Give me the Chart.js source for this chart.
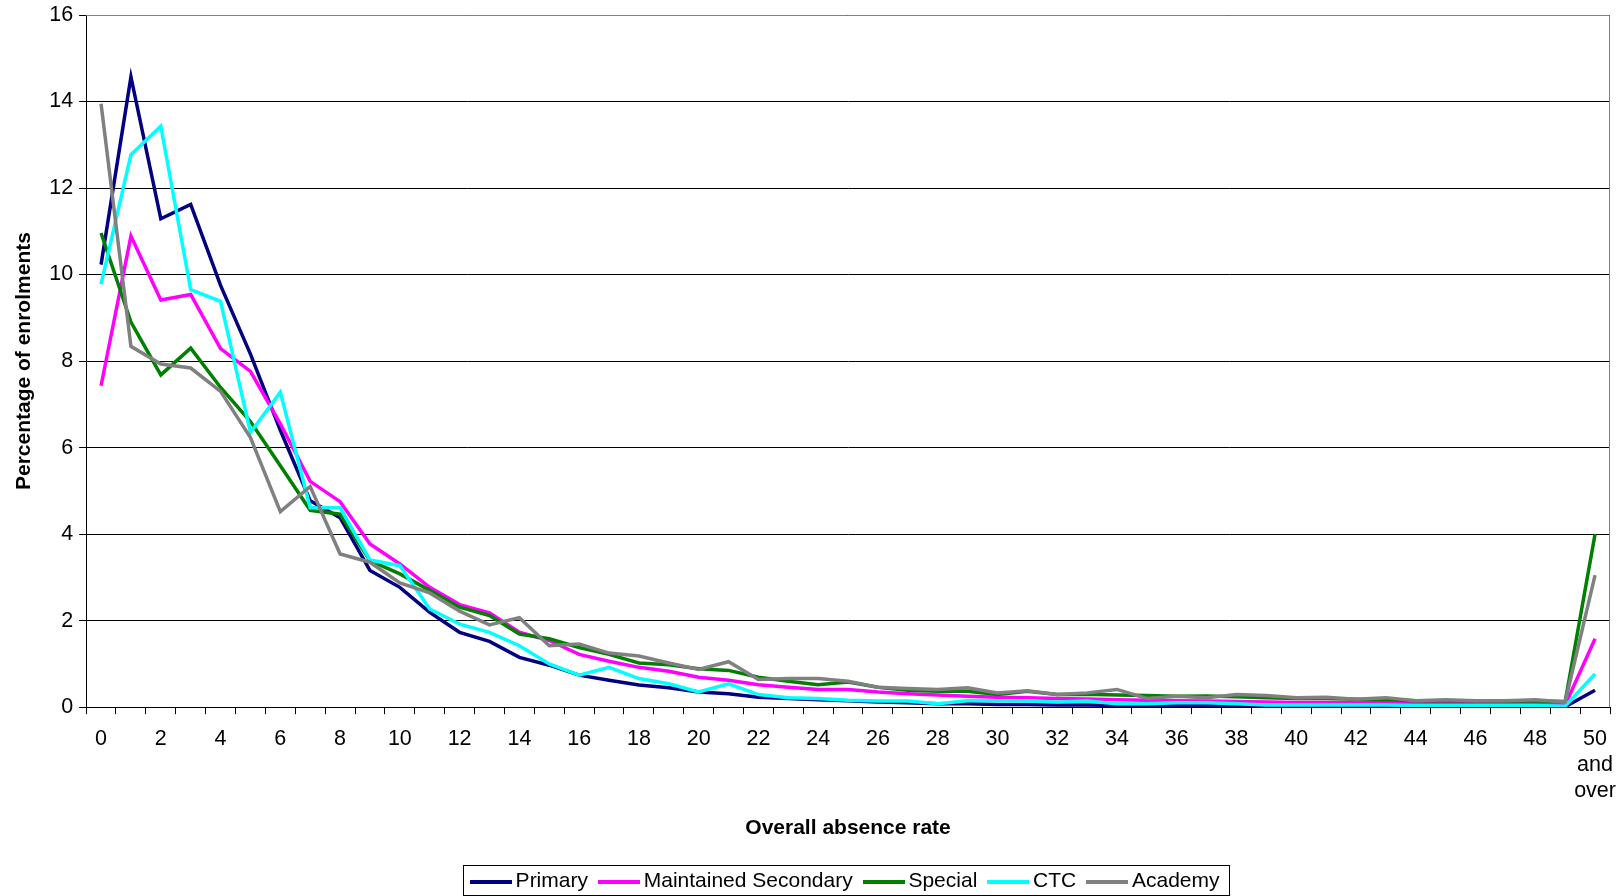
<!DOCTYPE html>
<html>
<head>
<meta charset="utf-8">
<script src="https://cdn.jsdelivr.net/npm/chart.js@4.4.1/dist/chart.umd.min.js"></script>
<style>
  html, body { margin: 0; padding: 0; background: #fff; }
  #wrap { width: 1622px; height: 896px; position: relative; }
</style>
</head>
<body>
<div id="wrap"><canvas id="chart"></canvas></div>
<script>
// x categories (absence rate bands)
const categories = ['0','1','2','3','4','5','6','7','8','9','10','11','12','13','14','15','16','17','18','19',
  '20','21','22','23','24','25','26','27','28','29','30','31','32','33','34','35','36','37','38','39',
  '40','41','42','43','44','45','46','47','48','49',['50','and','over']];

const primary = [10.23, 14.57, 11.29, 11.62, 9.75, 8.16, 6.4, 4.77, 4.38, 3.16, 2.77, 2.19, 1.73, 1.52, 1.15, 0.97, 0.74, 0.62, 0.51, 0.45,
  0.35, 0.31, 0.23, 0.2, 0.17, 0.15, 0.12, 0.1, 0.08, 0.08, 0.06, 0.06, 0.05, 0.05, 0.04, 0.04, 0.04, 0.03, 0.03, 0.03,
  0.03, 0.02, 0.02, 0.02, 0.02, 0.02, 0.02, 0.02, 0.02, 0.01, 0.39];
const maintainedSecondary = [7.43, 10.89, 9.41, 9.54, 8.29, 7.76, 6.55, 5.22, 4.75, 3.77, 3.31, 2.77, 2.37, 2.18, 1.73, 1.54, 1.22, 1.06, 0.92, 0.83,
  0.69, 0.62, 0.52, 0.46, 0.41, 0.41, 0.35, 0.31, 0.28, 0.25, 0.23, 0.22, 0.2, 0.19, 0.17, 0.16, 0.15, 0.14, 0.13, 0.12,
  0.11, 0.11, 0.1, 0.1, 0.09, 0.09, 0.08, 0.08, 0.08, 0.05, 1.58];
const special = [10.96, 8.9, 7.68, 8.3, 7.39, 6.6, 5.58, 4.55, 4.46, 3.39, 3.08, 2.7, 2.31, 2.12, 1.69, 1.58, 1.38, 1.22, 1.02, 0.98,
  0.89, 0.85, 0.69, 0.6, 0.52, 0.58, 0.46, 0.39, 0.37, 0.37, 0.29, 0.37, 0.29, 0.3, 0.28, 0.27, 0.25, 0.26, 0.24, 0.22,
  0.2, 0.2, 0.18, 0.17, 0.15, 0.15, 0.15, 0.14, 0.14, 0.13, 4.0];
const ctc = [9.78, 12.77, 13.43, 9.65, 9.38, 6.35, 7.28, 4.61, 4.61, 3.4, 3.27, 2.27, 1.92, 1.73, 1.42, 1.0, 0.74, 0.92, 0.66, 0.54,
  0.35, 0.54, 0.29, 0.22, 0.2, 0.16, 0.14, 0.14, 0.08, 0.15, 0.15, 0.14, 0.12, 0.14, 0.08, 0.08, 0.1, 0.1, 0.08, 0.05,
  0.05, 0.05, 0.05, 0.05, 0.04, 0.04, 0.04, 0.04, 0.04, 0.02, 0.77];
const academy = [13.95, 8.34, 7.93, 7.84, 7.3, 6.23, 4.52, 5.1, 3.54, 3.35, 2.87, 2.64, 2.22, 1.9, 2.07, 1.42, 1.46, 1.25, 1.18, 1.02,
  0.87, 1.05, 0.64, 0.66, 0.66, 0.6, 0.46, 0.43, 0.41, 0.45, 0.33, 0.38, 0.29, 0.33, 0.41, 0.2, 0.25, 0.22, 0.29, 0.27,
  0.22, 0.23, 0.18, 0.22, 0.15, 0.17, 0.15, 0.15, 0.17, 0.12, 3.05];

const seriesNames = ['Primary', 'Maintained Secondary', 'Special', 'CTC', 'Academy'];
const seriesColors = ['#000080', '#FF00FF', '#008000', '#00FFFF', '#808080'];
const seriesData = [primary, maintainedSecondary, special, ctc, academy];

const FONT = 'Liberation Sans, Arial, sans-serif';
const LEGEND_PAD = 16.75;
const SWATCH_BOX = 28.5;   // 범례 레이아웃용 폭
const SWATCH_W = 42;       // 실제 선 길이

// 범례 선 모양 (캔버스)
function makeSwatch(color) {
  const c = document.createElement('canvas');
  c.width = SWATCH_W;
  c.height = 4;
  const g = c.getContext('2d');
  g.fillStyle = color;
  g.fillRect(0, 0, SWATCH_W, 4);
  return c;
}

// 범례를 플롯 영역 가운데로 이동
const legendShiftPlugin = {
  id: 'legendShift',
  afterLayout(chart) {
    const lg = chart.legend;
    const a = chart.chartArea;
    if (!lg) return;
    const d = (a.left + a.right) / 2 - (lg.left + lg.right) / 2;
    lg.left += d;
    lg.right += d;
    lg.legendHitBoxes.forEach(b => { b.left += d; });
  }
};

// 플롯 테두리 + 범례 박스
const framePlugin = {
  id: 'frame',
  beforeDatasetsDraw(chart) {
    const { ctx, chartArea: a } = chart;
    ctx.save();
    ctx.strokeStyle = '#808080';
    ctx.lineWidth = 1;
    ctx.beginPath();
    ctx.moveTo(a.left, a.top + 0.5);
    ctx.lineTo(a.right - 0.5, a.top + 0.5);
    ctx.lineTo(a.right - 0.5, a.bottom);
    ctx.stroke();
    ctx.restore();
  },
  afterDraw(chart) {
    const lg = chart.legend;
    if (!lg || !lg.legendHitBoxes.length) return;
    const lw = lg.lineWidths[0];
    const sx = (lg.left + LEGEND_PAD + lg.right - lw) / 2;
    const swatchStart = sx + SWATCH_BOX / 2 - SWATCH_W / 2;
    const x0 = swatchStart - 6.7;
    const x1 = sx + lw - LEGEND_PAD + 10;
    const hb = lg.legendHitBoxes[0];
    const y0 = hb.top - 6;
    const y1 = hb.top + hb.height + 3;
    const { ctx } = chart;
    ctx.save();
    ctx.strokeStyle = '#000';
    ctx.lineWidth = 1;
    ctx.strokeRect(Math.round(x0) + 0.5, Math.round(y0) + 0.5, Math.round(x1 - x0), Math.round(y1 - y0));
    ctx.restore();
  }
};

const datasets = seriesNames.map((name, i) => ({
  label: name,
  data: seriesData[i],
  borderColor: seriesColors[i],
  backgroundColor: seriesColors[i],
  borderWidth: 3.5,
  pointRadius: 0,
  pointStyle: makeSwatch(seriesColors[i]),
  tension: 0,
  order: seriesNames.length - 1 - i
}));

new Chart(document.getElementById('chart'), {
  type: 'line',
  data: { labels: categories, datasets },
  plugins: [legendShiftPlugin, framePlugin],
  options: {
    responsive: true,
    maintainAspectRatio: false,
    animation: false,
    layout: { padding: { top: 15, right: 12, bottom: -6, left: 3 } },
    plugins: {
      tooltip: { enabled: false },
      legend: {
        position: 'bottom',
        labels: {
          color: '#000',
          font: { family: FONT, size: 21 },
          usePointStyle: true,
          pointStyleWidth: SWATCH_BOX,
          boxHeight: 21,
          padding: LEGEND_PAD,
          sort: (a, b) => a.datasetIndex - b.datasetIndex
        }
      }
    },
    scales: {
      x: {
        offset: true,
        afterFit: (scale) => { scale.paddingRight = 0; },
        grid: { offset: true, drawOnChartArea: false, drawTicks: true, tickLength: 7, color: '#000', tickColor: '#000' },
        border: { color: '#000', width: 1 },
        ticks: {
          autoSkip: false,
          maxRotation: 0,
          padding: 12,
          color: '#000',
          font: { family: FONT, size: 21.5, lineHeight: 1.2 },
          callback: function (val, i) { return i % 2 === 0 ? categories[i] : ''; }
        },
        title: {
          display: true,
          text: 'Overall absence rate',
          color: '#000',
          font: { family: FONT, size: 21, weight: 'bold' },
          padding: { top: 0, bottom: 13.5 }
        }
      },
      y: {
        min: 0,
        max: 16,
        afterFit: (scale) => { scale.paddingTop = 0; },
        grid: { color: '#000', tickColor: '#000', tickLength: 7 },
        border: { color: '#000', width: 1 },
        ticks: {
          stepSize: 2,
          color: '#000',
          padding: 6,
          font: { family: FONT, size: 21.5, lineHeight: 1.0 }
        },
        title: {
          display: true,
          text: 'Percentage of enrolments',
          color: '#000',
          font: { family: FONT, size: 21, weight: 'bold' },
          padding: { top: 9, bottom: 6 }
        }
      }
    }
  }
});
</script>
</body>
</html>
